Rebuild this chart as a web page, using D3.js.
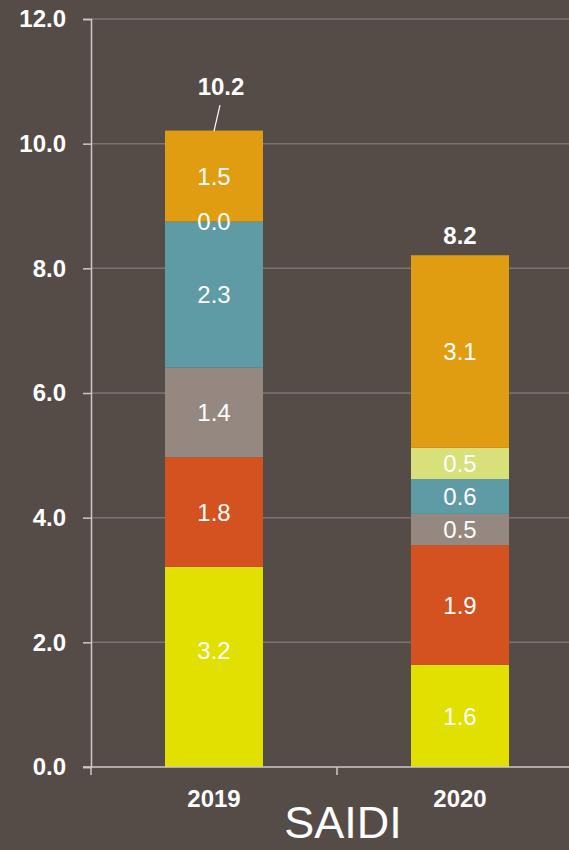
<!DOCTYPE html>
<html>
<head>
<meta charset="utf-8">
<script src="https://cdn.jsdelivr.net/npm/d3@7"></script>
<style>
  html, body { margin: 0; padding: 0; background: #554b47; }
  svg { display: block; font-family: "Liberation Sans", Arial, sans-serif; }
</style>
</head>
<body>
<svg id="chart" width="569" height="850"></svg>
<script>
// data
var years = ["2019", "2020"];
var seriesNames = ["s1", "s2", "s3", "s4", "s5", "s6"];
var seriesColors = ["#e2e000", "#d4521f", "#958880", "#5f9ba4", "#d8e07a", "#e09d11"];
var values2019 = [3.21, 1.76, 1.44, 2.34, 0.0, 1.46];
var values2020 = [1.64, 1.92, 0.50, 0.56, 0.50, 3.09];
var totals = [10.2, 8.2];
var yTicks = [0, 2, 4, 6, 8, 10, 12];
var title = "SAIDI";

var svg = d3.select("#chart");
var W = 569, H = 850;

svg.append("rect").attr("width", W).attr("height", H).attr("fill", "#554b47");

var y = d3.scaleLinear().domain([0, 12]).range([767, 19]);
var x = d3.scaleBand().domain(years).range([91, 583]);
var barW = 98;

// build table for stacking
var table = years.map(function(yr, i) {
	var row = { year: yr };
	var vals = i === 0 ? values2019 : values2020;
	seriesNames.forEach(function(s, j) { row[s] = vals[j]; });
	return row;
});
var stack = d3.stack().keys(seriesNames)(table);

// gridlines
svg.append("g").selectAll("line").data(yTicks.slice(1)).enter().append("line")
	.attr("x1", 91).attr("x2", W)
	.attr("y1", function(d) { return y(d); })
	.attr("y2", function(d) { return y(d); })
	.attr("stroke", "#7d7472").attr("stroke-width", 1.5);

// bars
var layers = svg.append("g").selectAll("g").data(stack).enter().append("g")
	.attr("fill", function(d, i) { return seriesColors[i]; });

layers.selectAll("rect").data(function(d) { return d; }).enter().append("rect")
	.attr("x", function(d) { return x(d.data.year) + x.bandwidth() / 2 - barW / 2; })
	.attr("width", barW)
	.attr("y", function(d) { return y(d[1]); })
	.attr("height", function(d) { return y(d[0]) - y(d[1]); });

// segment labels (drawn over all bars)
var segs = [];
stack.forEach(function(layer, li) {
	layer.forEach(function(d, ci) { segs.push({ d: d, li: li, ci: ci }); });
});
svg.append("g").selectAll("text").data(segs).enter().append("text")
	.attr("x", function(s) { return x(s.d.data.year) + x.bandwidth() / 2; })
	.attr("y", function(s) {
		var mid = (y(s.d[0]) + y(s.d[1])) / 2;
		// the big bottom label of 2019 sits a little higher in the original
		if (s.li === 0 && s.ci === 0) mid -= 17;
		return mid;
	})
	.attr("dy", "0.36em")
	.attr("text-anchor", "middle")
	.attr("fill", "#ffffff")
	.style("font-size", "24px")
	.text(function(s) { return (s.d[1] - s.d[0]).toFixed(1); });

// y axis
var yAxis = d3.axisLeft(y).tickValues(yTicks).tickSize(8).tickPadding(17)
	.tickFormat(d3.format(".1f"));
var yg = svg.append("g").attr("transform", "translate(91,0)").call(yAxis);
yg.select(".domain").attr("stroke", "#cfc8c4").attr("stroke-width", 1.5);
yg.selectAll(".tick line").attr("stroke", "#cfc8c4").attr("stroke-width", 1.5);
yg.selectAll(".tick text").attr("fill", "#ffffff")
	.style("font-size", "24px").style("font-weight", "bold")
	.style("font-family", "'Liberation Sans', Arial, sans-serif");

// x axis
svg.append("line").attr("x1", 83).attr("x2", W).attr("y1", 767).attr("y2", 767)
	.attr("stroke", "#cfc8c4").attr("stroke-width", 1.5);
svg.append("g").selectAll("line").data([91, 91 + x.bandwidth()]).enter().append("line")
	.attr("x1", function(d) { return d; }).attr("x2", function(d) { return d; })
	.attr("y1", 767).attr("y2", 775)
	.attr("stroke", "#cfc8c4").attr("stroke-width", 1.5);
svg.append("g").selectAll("text").data(years).enter().append("text")
	.attr("x", function(d) { return x(d) + x.bandwidth() / 2; })
	.attr("y", 807)
	.attr("text-anchor", "middle")
	.attr("fill", "#ffffff")
	.style("font-size", "24px").style("font-weight", "bold")
	.text(function(d) { return d; });

// totals
var totalG = svg.append("g");
totals.forEach(function(t, i) {
	var cx = x(years[i]) + x.bandwidth() / 2;
	var top = y(t);
	if (i === 0) {
		totalG.append("line")
			.attr("x1", cx).attr("y1", top)
			.attr("x2", cx + 6).attr("y2", top - 26)
			.attr("stroke", "#ffffff").attr("stroke-width", 1.2);
		totalG.append("text").attr("x", cx + 7).attr("y", top - 36)
			.attr("text-anchor", "middle").attr("fill", "#ffffff")
			.style("font-size", "24px").style("font-weight", "bold")
			.text(t.toFixed(1));
	} else {
		totalG.append("text").attr("x", cx).attr("y", top - 12)
			.attr("text-anchor", "middle").attr("fill", "#ffffff")
			.style("font-size", "24px").style("font-weight", "bold")
			.text(t.toFixed(1));
	}
});

// title
svg.append("text").attr("x", 343).attr("y", 838)
	.attr("text-anchor", "middle").attr("fill", "#ffffff")
	.style("font-size", "45px")
	.text(title);
</script>
</body>
</html>
